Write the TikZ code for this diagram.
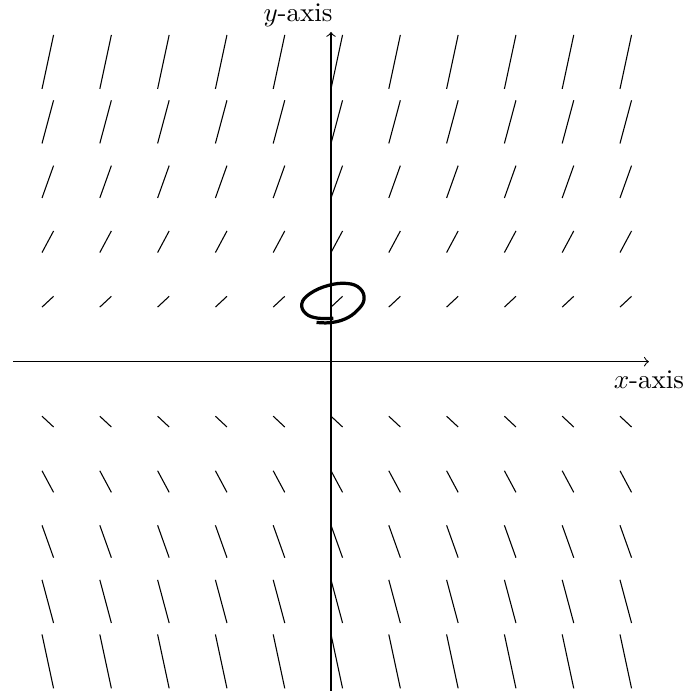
\documentclass[tikz,border=0pt]{standalone}
\begin{document}
\begin{tikzpicture}[x=0.753cm, y=0.781cm]

% Fix the margins
\useasboundingbox (-5.727,-5.483) rectangle (6.315,6.033);

% Draw the axes
\coordinate (xstart) at (-5.5,0);
\coordinate (xend) at (5.5,0);
\coordinate (ystart) at (0,-5.5);
\coordinate (yend) at (0,5.5);
\draw[->] (xstart) -- (xend) node[below] (xlab) {$x$-axis};  % x-axis
\draw[->] (ystart) -- (yend);  % y-axis
\node (ylab) at (-0.57,5.78) {$y$-axis};

% Slope field: short segments, slope grows with y
\foreach \x in {-5,...,5}
  \foreach \y in {-5,...,-1,1,2,...,5}
    \draw (\x,\y-0.09*\y) -- (\x+0.2,\y+0.09*\y);

% Loop round the point (0,1)
\draw[very thick] plot[smooth, tension=0.7] coordinates {
  (-0.25,0.655) (-0.017,0.650) (0.242,0.712) (0.450,0.85) (0.571,1.033)
  (0.502,1.22) (0.277,1.305) (-0.052,1.27) (-0.363,1.135) (-0.505,0.967)
  (-0.433,0.80) (-0.225,0.725) (0.04,0.725)};

\end{tikzpicture}
\end{document}
